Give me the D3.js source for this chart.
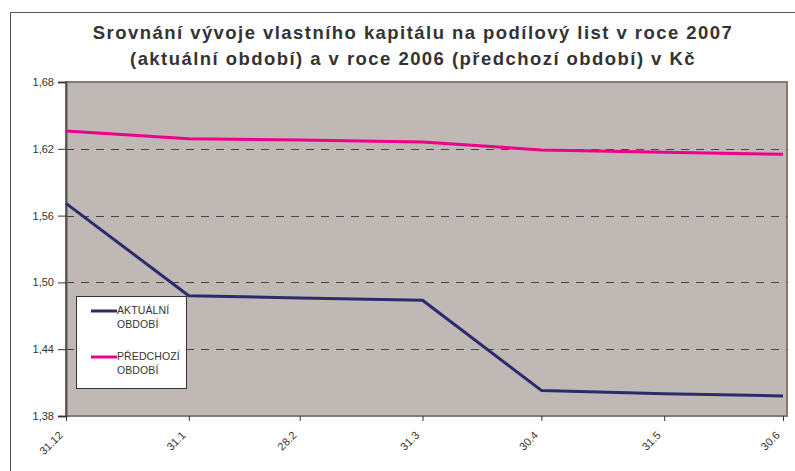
<!DOCTYPE html>
<html>
<head>
<meta charset="utf-8">
<script src="https://cdn.jsdelivr.net/npm/d3@7"></script>
<style>
  body { margin: 0; background: #fff; }
  svg { display: block; font-family: "Liberation Sans", Arial, sans-serif; }
</style>
</head>
<body>
<div id="chart"></div>
<script>
// data
var dates = ["2006-12-31", "2007-01-31", "2007-02-28", "2007-03-31", "2007-04-30", "2007-05-31", "2007-06-30"];
var tickLabels = ["31.12", "31.1", "28.2", "31.3", "30.4", "31.5", "30.6"];
var aktualni = [1.571, 1.488, 1.486, 1.484, 1.403, 1.400, 1.398];
var predchozi = [1.636, 1.629, 1.628, 1.626, 1.619, 1.617, 1.615];
var yTicks = [1.38, 1.44, 1.50, 1.56, 1.62, 1.68];
var titleLines = [
  "Srovnání vývoje vlastního kapitálu na podílový list v roce 2007",
  "(aktuální období) a v roce 2006 (předchozí období) v Kč"
];
var legendItems = [
  { name: ["AKTUÁLNÍ", "OBDOBÍ"], color: "#2b2b6c", values: aktualni },
  { name: ["PŘEDCHOZÍ", "OBDOBÍ"], color: "#ec008c", values: predchozi }
];

var width = 795,
  height = 471;
var plotL = 66, plotR = 787, plotT = 82, plotB = 416;

var svg = d3
  .select("#chart")
  .append("svg")
  .attr("width", width)
  .attr("height", height);

// outer chart frame
svg.append("rect")
  .attr("x", 10.5).attr("y", 12.5)
  .attr("width", 820).attr("height", 500)
  .attr("fill", "#fff")
  .attr("stroke", "#555")
  .attr("stroke-width", 1);

var parse = d3.timeParse("%Y-%m-%d");
var xDates = dates.map(parse);

var x = d3.scaleTime()
  .domain([xDates[0], xDates[xDates.length - 1]])
  .range([plotL, plotR - 4]);

var y = d3.scaleLinear()
  .domain([1.38, 1.68])
  .range([plotB, plotT]);

// title
svg.append("g")
  .selectAll("text")
  .data(titleLines)
  .join("text")
  .attr("x", 413)
  .attr("y", function (d, i) { return 39 + i * 26; })
  .attr("text-anchor", "middle")
  .attr("font-size", "18.5px")
  .attr("font-weight", "bold")
  .attr("letter-spacing", "1.45px")
  .attr("fill", "#333")
  .text(function (d) { return d; });

// plot area
svg.append("rect")
  .attr("x", plotL).attr("y", plotT)
  .attr("width", plotR - plotL).attr("height", plotB - plotT)
  .attr("fill", "#c0b8b5")
  .attr("stroke", "#847b77")
  .attr("stroke-width", 2);

// dashed gridlines
svg.append("g")
  .selectAll("line")
  .data(yTicks.filter(function (d) { return d > 1.38 && d < 1.68; }))
  .join("line")
  .attr("x1", plotL).attr("x2", plotR)
  .attr("y1", function (d) { return Math.round(y(d)) + 0.5; })
  .attr("y2", function (d) { return Math.round(y(d)) + 0.5; })
  .attr("stroke", "#444")
  .attr("stroke-width", 1)
  .attr("stroke-dasharray", "8,7");

// y axis
var yAxis = d3.axisLeft(y)
  .tickValues(yTicks)
  .tickSize(8)
  .tickPadding(4)
  .tickFormat(function (d) { return d3.format(".2f")(d).replace(".", ","); });

var gy = svg.append("g")
  .attr("transform", "translate(" + plotL + ",0)")
  .call(yAxis);
gy.select(".domain").attr("stroke", "#555").attr("stroke-width", 2);
gy.selectAll(".tick line").attr("stroke", "#333");
gy.selectAll(".tick text")
  .attr("font-size", "11px")
  .attr("fill", "#333")
  .attr("font-family", "Liberation Sans, Arial, sans-serif");

// x axis
var xAxis = d3.axisBottom(x)
  .tickValues(xDates)
  .tickSize(5)
  .tickFormat(function (d, i) { return tickLabels[i]; });

var gx = svg.append("g")
  .attr("transform", "translate(0," + plotB + ")")
  .call(xAxis);
gx.select(".domain").remove();
gx.selectAll(".tick line").attr("stroke", "#333");
gx.selectAll(".tick text")
  .attr("font-size", "11px")
  .attr("fill", "#333")
  .attr("font-family", "Liberation Sans, Arial, sans-serif")
  .attr("text-anchor", "end")
  .attr("dy", null)
  .attr("y", 0)
  .attr("transform", "translate(-3,20) rotate(-45)");

// series lines
var line = d3.line()
  .x(function (d, i) { return x(xDates[i]); })
  .y(function (d) { return y(d); });

svg.append("g")
  .selectAll("path")
  .data(legendItems)
  .join("path")
  .attr("d", function (d) { return line(d.values); })
  .attr("fill", "none")
  .attr("stroke", function (d) { return d.color; })
  .attr("stroke-width", 3)
  .attr("stroke-linejoin", "round");

// legend
var legend = svg.append("g");
legend.append("rect")
  .attr("x", 76.5).attr("y", 296.5)
  .attr("width", 110).attr("height", 92)
  .attr("fill", "#fff")
  .attr("stroke", "#333")
  .attr("stroke-width", 1);

var items = legend.selectAll("g")
  .data(legendItems)
  .join("g")
  .attr("transform", function (d, i) { return "translate(0," + (311 + i * 46) + ")"; });

items.append("line")
  .attr("x1", 91).attr("x2", 117)
  .attr("y1", 0).attr("y2", 0)
  .attr("stroke", function (d) { return d.color; })
  .attr("stroke-width", 3);

items.append("text")
  .attr("x", 117)
  .attr("y", 3)
  .attr("font-size", "10.5px")
  .attr("fill", "#333")
  .attr("letter-spacing", "0.1")
  .selectAll("tspan")
  .data(function (d) { return d.name; })
  .join("tspan")
  .attr("x", 117)
  .attr("dy", function (d, i) { return i === 0 ? 0 : 14; })
  .text(function (d) { return d; });
</script>
</body>
</html>
